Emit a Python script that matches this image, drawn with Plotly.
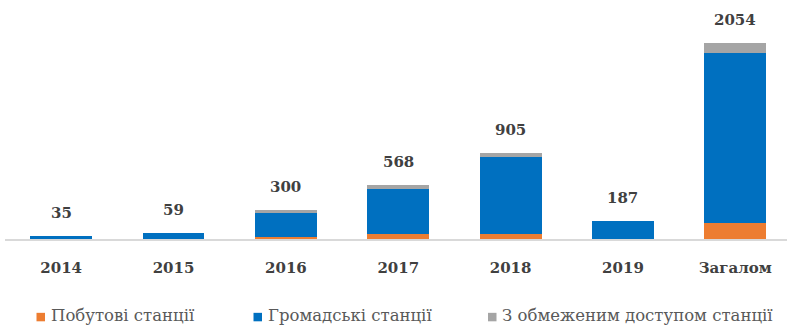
import plotly.graph_objects as go

categories = ["2014", "2015", "2016", "2017", "2018", "2019", "Загалом"]
household = [0, 0, 20, 48, 50, 0, 168]
public = [35, 59, 258, 478, 810, 187, 1782]
restricted = [0, 0, 22, 42, 45, 0, 104]

series_names = ["Побутові станції", "Громадські станції", "З обмеженим доступом станції"]
series_colors = ["#ED7D31", "#0070C0", "#A5A5A5"]

totals = [a + b + c for a, b, c in zip(household, public, restricted)]

SERIF = "DejaVu Serif, serif"
W, H = 787, 331
M_L, M_R, M_T, M_B = 5, 0, 20, 91.5
PLOT_W = W - M_L - M_R
PLOT_H = H - M_T - M_B


def px_to_paper(px, py):
    return (px - M_L) / PLOT_W, (H - M_B - py) / PLOT_H


fig = go.Figure()
for name, vals, color in zip(series_names, [household, public, restricted], series_colors):
    fig.add_trace(go.Bar(
        x=categories, y=vals, name=name,
        marker=dict(color=color, line=dict(width=0)),
        hoverinfo="skip", showlegend=False,
    ))

# total above each stacked column (x given as category index)
for i, tot in enumerate(totals):
    fig.add_annotation(
        x=i, y=tot, text=f"<b>{tot}</b>", showarrow=False,
        yanchor="middle", yshift=23,
        font=dict(family=SERIF, size=15, color="#404040"),
    )

# legend row under the axis: small colour square + series name
legend_left = [36.5, 253.5, 488]
for name, color, x0 in zip(series_names, series_colors, legend_left):
    sx0, sy0 = px_to_paper(x0, 322)
    sx1, sy1 = px_to_paper(x0 + 8.5, 313.5)
    fig.add_shape(type="rect", xref="paper", yref="paper",
                  x0=sx0, y0=sy0, x1=sx1, y1=sy1,
                  fillcolor=color, line=dict(width=0))
    tx, ty = px_to_paper(x0 + 12, 316)
    fig.add_annotation(
        xref="paper", yref="paper", x=tx, y=ty, text=name,
        showarrow=False, xanchor="left", yanchor="middle",
        font=dict(family=SERIF, size=16.5, color="#595959"),
    )

fig.update_layout(
    width=W, height=H,
    barmode="stack", bargap=0.45,
    paper_bgcolor="white", plot_bgcolor="white",
    margin=dict(l=M_L, r=M_R, t=M_T, b=M_B),
    showlegend=False,
    xaxis=dict(
        range=[-0.5, 6.46], showgrid=False, zeroline=False,
        showline=True, linecolor="#D9D9D9", linewidth=2,
        ticks="", ticklabelstandoff=14,
        tickfont=dict(family=SERIF, size=15, color="#404040"),
        tickvals=categories, ticktext=[f"<b>{c}</b>" for c in categories],
    ),
    yaxis=dict(
        range=[0, 2298], visible=False, showgrid=False, zeroline=False,
    ),
)

fig.write_html("out.html")
